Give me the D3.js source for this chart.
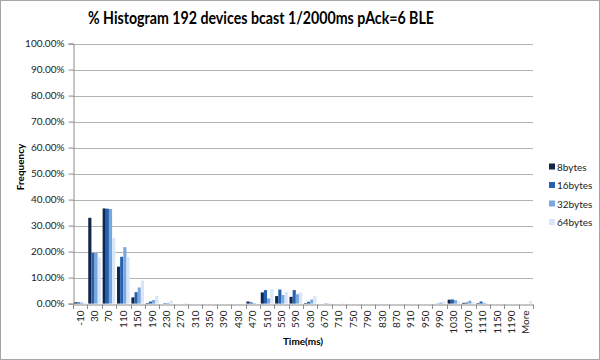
<!DOCTYPE html>
<html><head><meta charset="utf-8">
<script src="https://cdn.jsdelivr.net/npm/d3@7"></script>
<style>body{margin:0;background:#fff}svg{display:block;font-family:Lato,"Open Sans",sans-serif}</style>
</head><body><svg id="c" width="600" height="360"></svg>
<script>
const categories = ["-10","30","70","110","150","190","230","270","310","350","390","430","470","510","550","590","630","670","710","750","790","830","870","910","950","990","1030","1070","1110","1150","1190","More"];
const seriesNames = ["8bytes","16bytes","32bytes","64bytes"];
const s8  = [0.5,33.0,36.6,14.2,2.4,0.2,0,0,0,0,0,0,0.8,4.3,2.9,2.6,0.2,0,0,0,0,0,0,0,0,0,1.5,0.3,0.2,0,0,0];
const s16 = [0.5,19.5,36.5,18.0,4.4,0.8,0.2,0,0,0,0,0,0.5,5.2,5.4,5.2,0.7,0,0,0,0,0,0,0,0,0.1,1.6,0.4,0.8,0,0,0];
const s32 = [0.4,19.5,36.4,21.7,6.2,1.4,0.3,0,0,0,0,0,0.2,2.0,3.3,3.6,1.6,0.2,0,0,0,0,0,0,0,0.4,1.3,1.1,0.3,0,0,0];
const s64 = [0.3,17.8,25.3,18.0,8.9,3.0,1.2,0.3,0,0,0,0,0,5.5,4.5,4.3,2.9,0.3,0.2,0,0,0,0,0,0,0.8,0.8,0.5,0.2,0,0,0.9];
const yTicks = [0,10,20,30,40,50,60,70,80,90,100];
const colors = ["#11264a","#2461b0","#7ba7df","#d9e6f7"];
const series = [s8,s16,s32,s64];

const svg = d3.select("#c");
const m = {l:73, r:533, t:43.6, b:303.6};
svg.append("rect").attr("x",0.5).attr("y",0.5).attr("width",599).attr("height",359)
  .attr("fill","#fff").attr("stroke","#a6a6a6");

const x = d3.scaleBand().domain(categories).range([m.l,m.r]).paddingInner(0).paddingOuter(0);
const xs = d3.scaleBand().domain(seriesNames).range([0,x.bandwidth()]).paddingOuter(0.28).paddingInner(0);
const y = d3.scaleLinear().domain([0,100]).range([m.b,m.t]);

// gridlines
svg.append("g").selectAll("line").data(yTicks.filter(d=>d>0)).join("line")
  .attr("x1",m.l).attr("x2",m.r).attr("y1",d=>Math.round(y(d))+0.5).attr("y2",d=>Math.round(y(d))+0.5)
  .attr("stroke","#b3b3b3").attr("stroke-width",1);

// bars
const g = svg.append("g");
series.forEach((s,i)=>{
  g.append("g").selectAll("rect").data(s.map((v,j)=>({c:categories[j],v}))).join("rect")
    .attr("x",d=>x(d.c)+xs(seriesNames[i]))
    .attr("width",xs.bandwidth())
    .attr("y",d=>y(d.v))
    .attr("height",d=>y(0)-y(d.v))
    .attr("fill",colors[i]);
});

// y axis
const ya = svg.append("g").attr("transform",`translate(${m.l+0.5},0)`)
  .call(d3.axisLeft(y).tickValues(yTicks).tickSize(5).tickFormat(d=>d.toFixed(2)+"%"));
ya.select(".domain").attr("stroke","#8c8c8c");
ya.selectAll(".tick line").attr("stroke","#8c8c8c");
ya.selectAll("text").attr("font-family","Lato,sans-serif").attr("font-size",10).attr("fill","#222").attr("x",-9);

// x axis
const xa = svg.append("g").attr("transform",`translate(0,${Math.round(m.b)+0.5})`)
  .call(d3.axisBottom(x).tickSize(0).tickPadding(6));
xa.select(".domain").attr("stroke","#8c8c8c");
xa.selectAll(".tick text").attr("font-family","Lato,sans-serif").attr("font-size",10).attr("fill","#222")
  .attr("transform","rotate(-90)").attr("text-anchor","end").attr("x",-6).attr("y",0).attr("dy","0.35em");
svg.append("g").selectAll("line").data(categories.concat(["__end"])).join("line")
  .attr("x1",(d,i)=>Math.round(m.l+i*x.step())+0.5).attr("x2",(d,i)=>Math.round(m.l+i*x.step())+0.5)
  .attr("y1",Math.round(m.b)+0.5).attr("y2",Math.round(m.b)+5)
  .attr("stroke","#8c8c8c");

// titles
svg.append("text").attr("x",261).attr("y",24).attr("text-anchor","middle")
  .attr("font-size",16.5).attr("font-weight","bold").attr("fill","#000")
  .attr("textLength",346).attr("lengthAdjust","spacingAndGlyphs")
  .text("% Histogram 192 devices bcast 1/2000ms pAck=6 BLE");
svg.append("text").attr("x",303).attr("y",345).attr("text-anchor","middle")
  .attr("font-size",10).attr("font-weight","bold").text("Time(ms)");
svg.append("text").attr("transform","translate(24,167) rotate(-90)").attr("text-anchor","middle")
  .attr("font-size",10).attr("font-weight","bold").text("Frequency");

// legend
const lg = svg.append("g");
seriesNames.forEach((n,i)=>{
  const yy = 167 + i*18.5;
  lg.append("rect").attr("x",549).attr("y",yy-3.5).attr("width",6).attr("height",6).attr("fill",colors[i]);
  lg.append("text").attr("x",557).attr("y",yy).attr("dy","0.35em").attr("font-size",10).attr("fill","#222").text(n);
});
</script></body></html>
